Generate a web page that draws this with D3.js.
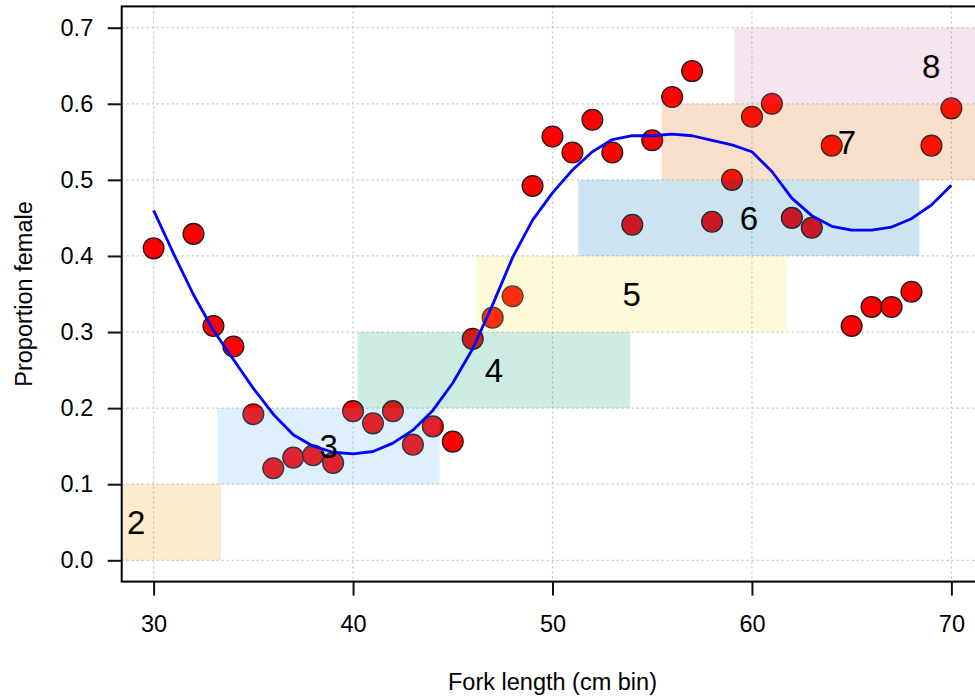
<!DOCTYPE html>
<html>
<head>
<meta charset="utf-8">
<script src="https://cdn.jsdelivr.net/npm/d3@7"></script>
<style>
  body { margin: 0; background: #fff; }
  svg { display: block; font-family: "Liberation Sans", Arial, sans-serif; }
</style>
</head>
<body>
<svg id="chart" width="975" height="698"></svg>
<script>
// observed proportion female per 1 cm length bin
var binLength = [30, 32, 33, 34, 35, 36, 37, 38, 39, 40, 41, 42, 43, 44, 45, 46, 47, 48, 49, 50,
                 51, 52, 53, 54, 55, 56, 57, 58, 59, 60, 61, 62, 63, 64, 65, 66, 67, 68, 69, 70];
var propFemale = [0.410, 0.429, 0.308, 0.281, 0.192, 0.121, 0.135, 0.138, 0.128, 0.196,
                  0.180, 0.196, 0.152, 0.176, 0.156, 0.291, 0.319, 0.347, 0.492, 0.557,
                  0.536, 0.579, 0.536, 0.441, 0.552, 0.609, 0.643, 0.445, 0.500, 0.583,
                  0.600, 0.450, 0.437, 0.545, 0.308, 0.333, 0.333, 0.353, 0.545, 0.594];

// smoothed fit, evaluated at each cm
var fitLength = d3.range(30, 71);
var fitProp = [0.460, 0.403, 0.349, 0.302, 0.264, 0.226, 0.192, 0.165, 0.150, 0.142,
               0.140, 0.143, 0.154, 0.171, 0.197, 0.233, 0.278, 0.336, 0.398, 0.447,
               0.483, 0.513, 0.537, 0.553, 0.558, 0.558, 0.560, 0.558, 0.552, 0.546,
               0.537, 0.511, 0.476, 0.453, 0.439, 0.434, 0.434, 0.438, 0.449, 0.467, 0.493];

// length range of each age class
var ageLabel = ["2", "3", "4", "5", "6", "7", "8"];
var ageLo = [24.87, 33.21, 40.23, 46.18, 51.29, 55.48, 59.12];
var ageHi = [33.38, 44.34, 53.90, 61.75, 68.40, 74.05, 78.86];

var xTicks = [30, 40, 50, 60, 70];
var yTicks = [0, 0.1, 0.2, 0.3, 0.4, 0.5, 0.6, 0.7];

var ageColors = ["#E69F00", "#56B4E9", "#009E73", "#F0E442", "#0072B2", "#D55E00", "#CC79A7"];

// plot region (right side runs past the window edge)
var plotLeft = 121.7, plotRight = 983.3, plotTop = 6.4, plotBottom = 581.6;

var svg = d3.select("#chart");

var xScale = d3.scaleLinear().domain([28.4, 71.6]).range([plotLeft, plotRight]);
var yScale = d3.scaleLinear().domain([-0.028, 0.728]).range([plotBottom, plotTop]);

svg.append("clipPath").attr("id", "plotclip")
    .append("rect")
    .attr("x", plotLeft).attr("y", plotTop)
    .attr("width", plotRight - plotLeft).attr("height", plotBottom - plotTop);

var plot = svg.append("g").attr("clip-path", "url(#plotclip)");

// dotted grid
plot.selectAll(".vgrid").data(xTicks).enter()
    .append("line")
    .attr("x1", function(d) { return xScale(d); })
    .attr("x2", function(d) { return xScale(d); })
    .attr("y1", plotTop).attr("y2", plotBottom)
    .attr("stroke", "#c4c4c4").attr("stroke-width", 1.2)
    .attr("stroke-dasharray", "2,3");

plot.selectAll(".hgrid").data(yTicks).enter()
    .append("line")
    .attr("x1", plotLeft).attr("x2", plotRight)
    .attr("y1", function(d) { return yScale(d); })
    .attr("y2", function(d) { return yScale(d); })
    .attr("stroke", "#c4c4c4").attr("stroke-width", 1.2)
    .attr("stroke-dasharray", "2,3");

// points
plot.selectAll(".pt").data(binLength).enter()
    .append("circle")
    .attr("cx", function(d) { return xScale(d); })
    .attr("cy", function(d, i) { return yScale(propFemale[i]); })
    .attr("r", 10.4)
    .attr("fill", "#ff0000")
    .attr("stroke", "#1a1a1a")
    .attr("stroke-width", 1.3);

// age class bands, drawn transparent over the points
plot.selectAll(".band").data(ageLabel).enter()
    .append("rect")
    .attr("x", function(d, i) { return xScale(ageLo[i]); })
    .attr("width", function(d, i) { return xScale(ageHi[i]) - xScale(ageLo[i]); })
    .attr("y", function(d, i) { return yScale((i + 1) / 10); })
    .attr("height", function(d, i) { return yScale(i / 10) - yScale((i + 1) / 10); })
    .attr("fill", function(d, i) { return ageColors[i]; })
    .attr("fill-opacity", 0.2);

// fitted curve
plot.append("path")
    .datum(fitLength)
    .attr("fill", "none")
    .attr("stroke", "#0000ff")
    .attr("stroke-width", 2.8)
    .attr("stroke-linejoin", "round")
    .attr("d", d3.line()
        .x(function(d) { return xScale(d); })
        .y(function(d, i) { return yScale(fitProp[i]); }));

// age labels
plot.selectAll(".agelab").data(ageLabel).enter()
    .append("text")
    .attr("x", function(d, i) { return xScale((ageLo[i] + ageHi[i]) / 2); })
    .attr("y", function(d, i) { return yScale(i / 10 + 0.05); })
    .attr("dy", "0.36em")
    .attr("text-anchor", "middle")
    .attr("font-size", 33)
    .attr("fill", "#000")
    .text(function(d) { return d; });

// box
svg.append("rect")
    .attr("x", plotLeft).attr("y", plotTop)
    .attr("width", plotRight - plotLeft).attr("height", plotBottom - plotTop)
    .attr("fill", "none").attr("stroke", "#000").attr("stroke-width", 2);

// axes
var xAxis = svg.append("g")
    .attr("transform", "translate(0," + plotBottom + ")")
    .call(d3.axisBottom(xScale).tickValues(xTicks).tickSize(14).tickPadding(20));
xAxis.select(".domain").remove();
xAxis.selectAll(".tick line").attr("stroke", "#111").attr("stroke-width", 2);
xAxis.selectAll(".tick text").attr("font-size", 23.5).attr("fill", "#000")
    .attr("font-family", "Liberation Sans, Arial, sans-serif");

var yAxis = svg.append("g")
    .attr("transform", "translate(" + plotLeft + ",0)")
    .call(d3.axisLeft(yScale).tickValues(yTicks).tickSize(14).tickPadding(14.5)
        .tickFormat(d3.format(".1f")));
yAxis.select(".domain").remove();
yAxis.selectAll(".tick line").attr("stroke", "#111").attr("stroke-width", 2);
yAxis.selectAll(".tick text").attr("font-size", 23.5).attr("fill", "#000")
    .attr("font-family", "Liberation Sans, Arial, sans-serif");

// axis titles
svg.append("text")
    .attr("x", (plotLeft + plotRight) / 2)
    .attr("y", 690)
    .attr("text-anchor", "middle")
    .attr("font-size", 23.5)
    .text("Fork length (cm bin)");

svg.append("text")
    .attr("transform", "translate(31.5," + ((plotTop + plotBottom) / 2) + ") rotate(-90)")
    .attr("text-anchor", "middle")
    .attr("font-size", 23.5)
    .text("Proportion female");
</script>
</body>
</html>
